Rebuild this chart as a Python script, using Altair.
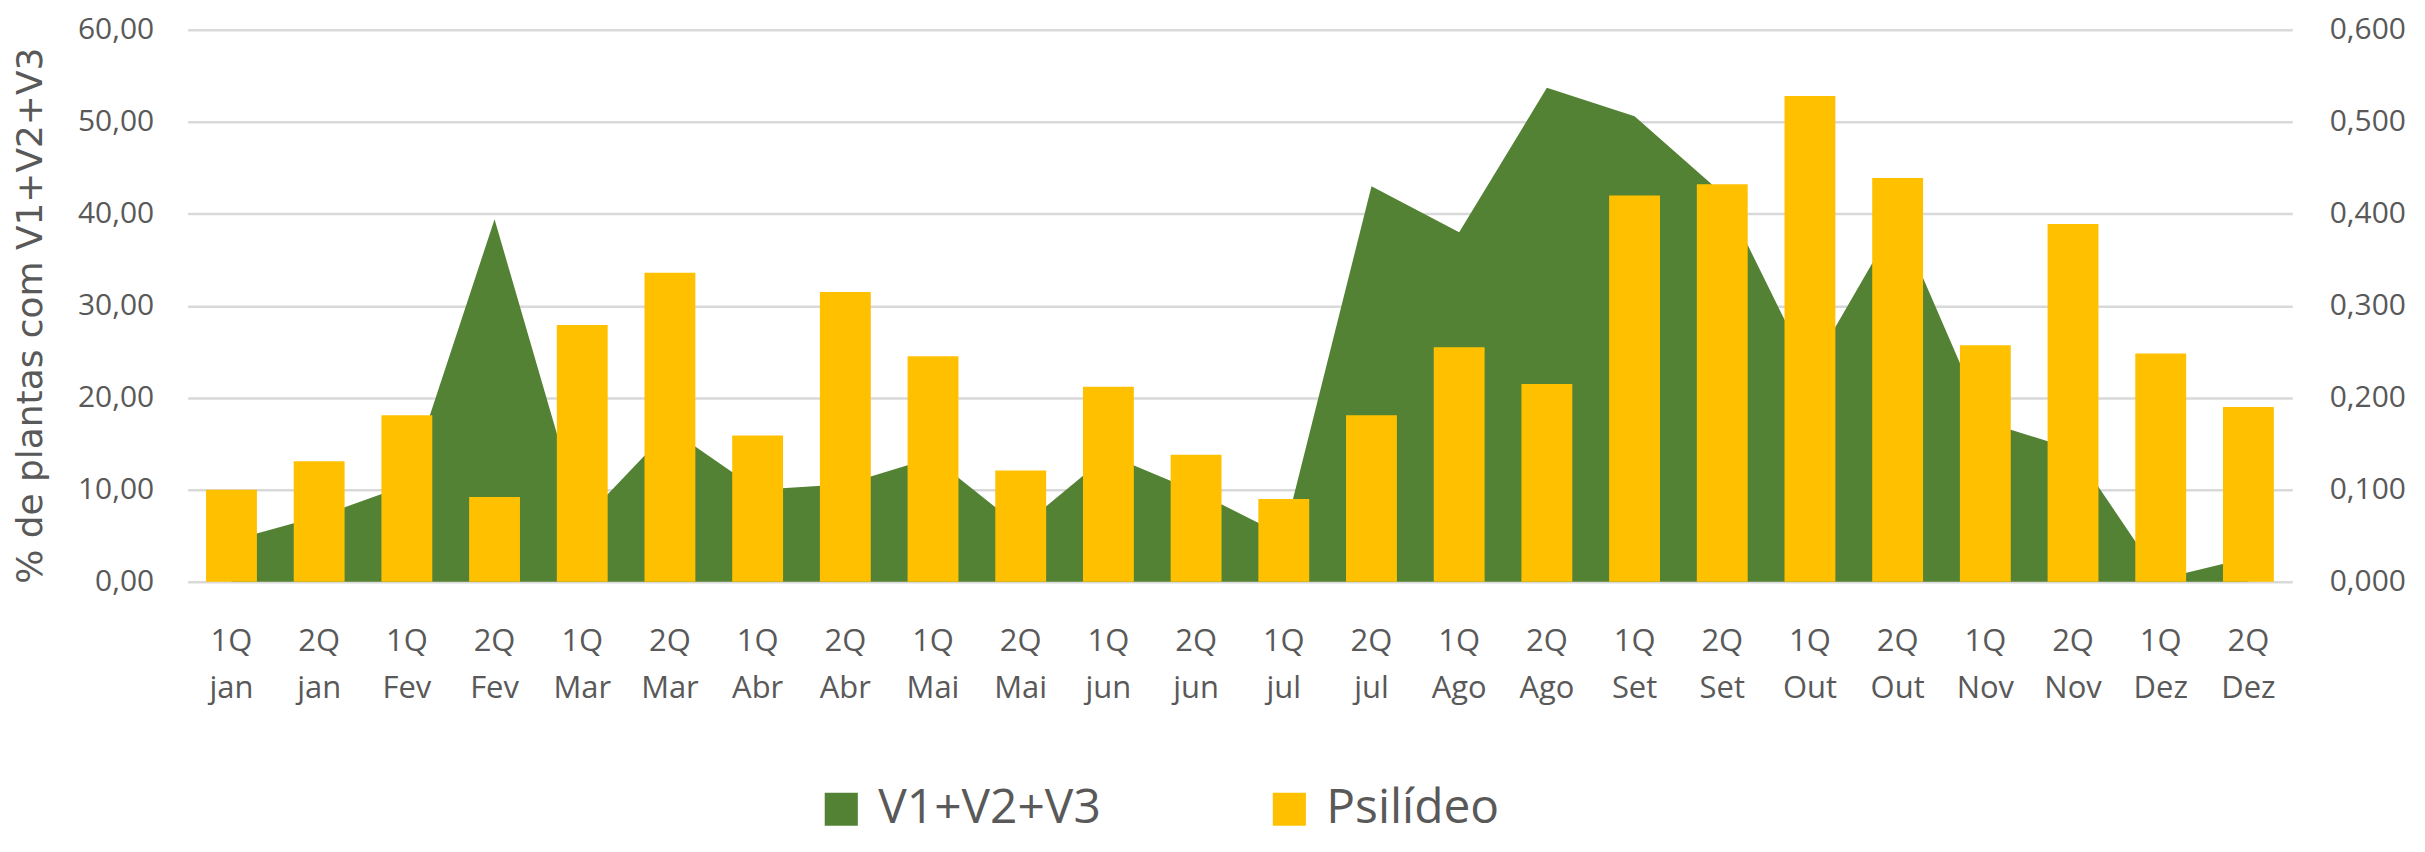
import altair as alt
import pandas as pd

# --- data ---
quinzenas = ["1Q", "2Q"] * 12
meses = ["jan", "jan", "Fev", "Fev", "Mar", "Mar", "Abr", "Abr", "Mai", "Mai", "jun", "jun",
         "jul", "jul", "Ago", "Ago", "Set", "Set", "Out", "Out", "Nov", "Nov", "Dez", "Dez"]
categorias = [f"{q} {m}" for q, m in zip(quinzenas, meses)]

v1v2v3 = [4.5, 7.1, 10.5, 39.4, 6.6, 16.6, 10.0, 10.6, 13.5, 5.9, 13.8, 9.8,
          5.0, 43.0, 38.0, 53.7, 50.6, 42.2, 22.9, 39.4, 17.4, 14.4, 0.3, 2.6]
psilideo = [0.100, 0.131, 0.181, 0.092, 0.279, 0.336, 0.159, 0.315, 0.245, 0.121, 0.212, 0.138,
            0.090, 0.181, 0.255, 0.215, 0.420, 0.432, 0.528, 0.439, 0.257, 0.389, 0.248, 0.190]

series_names = ["V1+V2+V3", "Psilídeo"]
series_colors = ["#548235", "#FFC000"]

df_area = pd.DataFrame({"cat": categorias, "valor": v1v2v3, "serie": series_names[0]})
df_bar = pd.DataFrame({"cat": categorias, "valor": psilideo, "serie": series_names[1]})

TEXT = "#595959"
FONT = "Open Sans"

x_enc = dict(
    sort=categorias,
    scale=alt.Scale(paddingInner=0.42, paddingOuter=0.21),
    axis=alt.Axis(
        title=None,
        labelExpr="split(datum.value, ' ')",
        labelAngle=0,
        labelFont=FONT,
        labelFontSize=31,
        labelColor=TEXT,
        labelBaseline="alphabetic",
        labelLineHeight=47,
        labelPadding=69,
        domain=False,
        ticks=False,
        grid=False,
    ),
)

color_enc = alt.Color(
    "serie:N",
    scale=alt.Scale(domain=series_names, range=series_colors),
    legend=alt.Legend(
        title=None,
        orient="none",
        direction="horizontal",
        columns=2,
        legendX=631,
        legendY=757,
        symbolType="square",
        symbolSize=1100,
        symbolStrokeWidth=0,
        symbolOpacity=1,
        labelFont=FONT,
        labelFontSize=48,
        labelColor=TEXT,
        labelOffset=13,
        columnPadding=164,
        labelLimit=400,
    ),
)

area = alt.Chart(df_area).mark_area(opacity=1, line=False).encode(
    x=alt.X("cat:N", bandPosition=0.5, **x_enc),
    y=alt.Y(
        "valor:Q",
        scale=alt.Scale(domain=[0, 60], nice=False),
        axis=alt.Axis(
            title="% de plantas com V1+V2+V3",
            titleFont="DejaVu Sans",
            titleFontSize=36,
            titleFontWeight="normal",
            titleColor=TEXT,
            titleX=-157,
            titleY=286,
            titleAngle=270,
            titleAlign="center",
            titleBaseline="middle",
            values=[0, 10, 20, 30, 40, 50, 60],
            labelExpr="replace(format(datum.value, '.2f'), '.', ',')",
            labelFont=FONT,
            labelFontSize=30,
            labelColor=TEXT,
            labelPadding=34,
            domain=False,
            ticks=False,
            grid=True,
            gridColor="#D9D9D9",
            gridWidth=2.5,
            orient="left",
        ),
    ),
    color=color_enc,
)

bars = alt.Chart(df_bar).mark_bar(opacity=1).encode(
    x=alt.X("cat:N", **x_enc),
    y=alt.Y(
        "valor:Q",
        scale=alt.Scale(domain=[0, 0.6], nice=False),
        axis=alt.Axis(
            title=None,
            orient="right",
            values=[0, 0.1, 0.2, 0.3, 0.4, 0.5, 0.6],
            labelExpr="replace(format(datum.value, '.3f'), '.', ',')",
            labelFont=FONT,
            labelFontSize=30,
            labelColor=TEXT,
            labelPadding=37,
            domain=False,
            ticks=False,
            grid=False,
        ),
    ),
    color=color_enc,
)

chart = (
    alt.layer(area, bars)
    .resolve_scale(y="independent")
    .properties(
        width=2109,
        height=553,
        autosize=alt.AutoSizeParams(type="none"),
        padding={"left": 180, "top": 21, "right": 125, "bottom": 262},
        background="white",
    )
    .configure_view(stroke=None)
)

chart.save("out.html", embed_options={"renderer": "svg", "actions": False})
